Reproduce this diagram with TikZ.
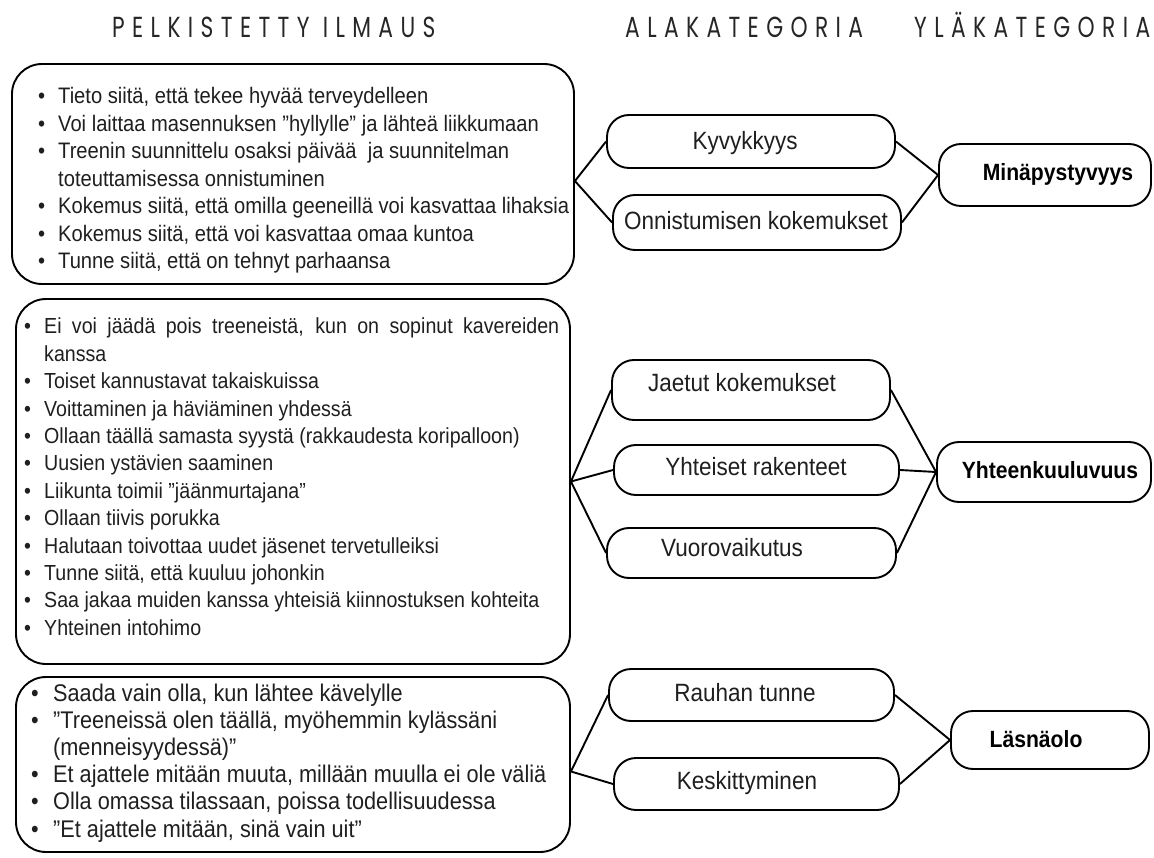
\documentclass[tikz,border=0pt]{standalone}
\usepackage{fontspec}
\setmainfont[FakeStretch=0.9]{Liberation Sans}
\newfontfamily\headfont[LetterSpace=25.5,FakeStretch=0.75]{Poppins}
\usetikzlibrary{calc}

% bullet with a fixed-width slot, and the matching indent for wrapped lines
\newcommand\bul[1]{\makebox[#1][l]{•}}
\newcommand\cont[1]{\hspace*{#1}}

\begin{document}
\begin{tikzpicture}[x=1pt,y=-1pt,
  head/.style={inner sep=0pt, text=black!85, font=\headfont\fontsize{29}{29}\selectfont},
  listbox/.style={draw=black, line width=1.9pt, rounded corners=30pt, inner sep=0pt},
  catbox/.style={draw=black, line width=1.9pt, rounded corners=22pt, inner sep=0pt},
  listtext/.style={inner sep=0pt, anchor=base west, text=black!88},
  cattext/.style={inner sep=0pt, text=black!88, font=\fontsize{25}{25}\selectfont, text height=17.9pt, text depth=0pt},
  toptext/.style={inner sep=0pt, text=black, font=\bfseries\fontsize{23.5}{23.5}\selectfont, text height=16.8pt, text depth=0pt},
  conn/.style={draw=black, line width=1.9pt}
]
\fill[white] (0,0) rectangle (1154,858);
\useasboundingbox (0,0) rectangle (1154,858);

% column headings
\node[head, anchor=base west] (hPelk) at (112,38) {PELKISTETTY ILMAUS};
\node[head, anchor=base west] (hAla)  at (625,38) {ALAKATEGORIA};
\node[head, anchor=base west] (hYla)  at (914,38) {YLÄKATEGORIA};

% ---------- group 1: Minäpystyvyys ----------
\node[listbox, minimum width=562, minimum height=220] (b1) at (293,174) {};
\node[listtext] (t1) at (38,104) {\parbox[t]{560pt}{\raggedright\fontsize{22.4}{27.5}\selectfont
\bul{20pt}Tieto siitä, että tekee hyvää terveydelleen\\
\bul{20pt}Voi laittaa masennuksen ”hyllylle” ja lähteä liikkumaan\\
\bul{20pt}Treenin suunnittelu osaksi päivää\ \ ja suunnitelman\\
\cont{20pt}toteuttamisessa onnistuminen\\
\bul{20pt}Kokemus siitä, että omilla geeneillä voi kasvattaa lihaksia\\
\bul{20pt}Kokemus siitä, että voi kasvattaa omaa kuntoa\\
\bul{20pt}Tunne siitä, että on tehnyt parhaansa}};

\node[catbox, minimum width=288, minimum height=53] (kyv) at (751,141.5) {};
\node[cattext] (kyvT) at (745,141) {Kyvykkyys};
\node[catbox, minimum width=288, minimum height=55] (onn) at (757,222.5) {};
\node[cattext] (onnT) at (756,221) {Onnistumisen kokemukset};
\node[catbox, minimum width=212, minimum height=62] (mina) at (1045,175) {};
\node[toptext] (minaT) at (1058,172) {Minäpystyvyys};

\coordinate (v1) at ($(b1.east)+(0,7)$);
\draw[conn] (v1) -- (kyv.west);
\draw[conn] (v1) -- (onn.west);
\draw[conn] (kyv.east) -- (mina.west);
\draw[conn] (onn.east) -- (mina.west);

% ---------- group 2: Yhteenkuuluvuus ----------
\node[listbox, minimum width=554, minimum height=365] (b2) at (293,481.5) {};
\node[listtext] (t2) at (24,334) {\parbox[t]{560pt}{\raggedright\fontsize{21.8}{27.4}\selectfont
\bul{20pt}\makebox[515pt][s]{Ei voi jäädä pois treeneistä, kun on sopinut kavereiden}\\
\cont{20pt}kanssa\\
\bul{20pt}Toiset kannustavat takaiskuissa\\
\bul{20pt}Voittaminen ja häviäminen yhdessä\\
\bul{20pt}Ollaan täällä samasta syystä (rakkaudesta koripalloon)\\
\bul{20pt}Uusien ystävien saaminen\\
\bul{20pt}Liikunta toimii ”jäänmurtajana”\\
\bul{20pt}Ollaan tiivis porukka\\
\bul{20pt}Halutaan toivottaa uudet jäsenet tervetulleiksi\\
\bul{20pt}Tunne siitä, että kuuluu johonkin\\
\bul{20pt}Saa jakaa muiden kanssa yhteisiä kiinnostuksen kohteita\\
\bul{20pt}Yhteinen intohimo}};

\node[catbox, minimum width=278, minimum height=60] (jae) at (751,390) {};
\node[cattext] (jaeT) at (742,383) {Jaetut kokemukset};
\node[catbox, minimum width=285, minimum height=50] (yht) at (756.5,470) {};
\node[cattext] (yhtT) at (756,467) {Yhteiset rakenteet};
\node[catbox, minimum width=289, minimum height=50] (vuo) at (751.5,553) {};
\node[cattext] (vuoT) at (732,548) {Vuorovaikutus};
\node[catbox, minimum width=214, minimum height=60] (yhk) at (1044,472) {};
\node[toptext] (yhkT) at (1050,470) {Yhteenkuuluvuus};

\coordinate (v2) at (b2.east);
\draw[conn] (v2) -- (jae.west);
\draw[conn] (v2) -- (yht.west);
\draw[conn] (v2) -- (vuo.west);
\draw[conn] (jae.east) -- (yhk.west);
\draw[conn] (yht.east) -- (yhk.west);
\draw[conn] (vuo.east) -- (yhk.west);

% ---------- group 3: Läsnäolo ----------
\node[listbox, minimum width=554, minimum height=175] (b3) at (293,764.5) {};
\node[listtext] (t3) at (31,701) {\parbox[t]{560pt}{\raggedright\fontsize{24.1}{27.2}\selectfont
\bul{22pt}Saada vain olla, kun lähtee kävelylle\\
\bul{22pt}”Treeneissä olen täällä, myöhemmin kylässäni\\
\cont{22pt}(menneisyydessä)”\\
\bul{22pt}Et ajattele mitään muuta, millään muulla ei ole väliä\\
\bul{22pt}Olla omassa tilassaan, poissa todellisuudessa\\
\bul{22pt}”Et ajattele mitään, sinä vain uit”}};

\node[catbox, minimum width=285, minimum height=52] (rau) at (751.5,695) {};
\node[cattext] (rauT) at (745,693) {Rauhan tunne};
\node[catbox, minimum width=285, minimum height=52] (kes) at (756.5,784) {};
\node[cattext] (kesT) at (747,781) {Keskittyminen};
\node[catbox, minimum width=198, minimum height=58] (las) at (1050,740) {};
\node[toptext] (lasT) at (1036,739) {Läsnäolo};

\coordinate (v3) at ($(b3.east)+(0,7)$);
\draw[conn] (v3) -- (rau.west);
\draw[conn] (v3) -- (kes.west);
\draw[conn] (rau.east) -- (las.west);
\draw[conn] (kes.east) -- (las.west);
\end{tikzpicture}
\end{document}
